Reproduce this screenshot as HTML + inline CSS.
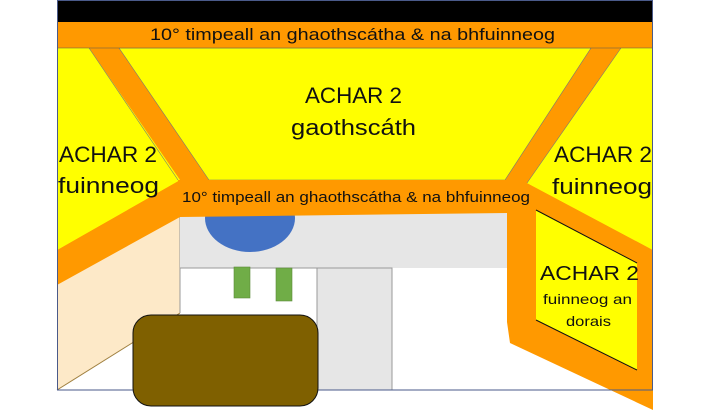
<!DOCTYPE html>
<html><head><meta charset="utf-8"><style>
html,body{margin:0;padding:0;background:#fff;}
svg{display:block;}
text{font-family:"Liberation Sans",sans-serif;fill:#111;}
</style></head><body>
<svg width="709" height="411" viewBox="0 0 709 411" xmlns="http://www.w3.org/2000/svg">
<rect x="0" y="0" width="709" height="411" fill="#fff"/>
<polygon points="57,280 180,213 180,313 57,390" fill="#fde9c8"/>
<line x1="180" y1="313" x2="57" y2="390" stroke="#a08040" stroke-width="1"/>
<line x1="180" y1="213" x2="180" y2="313" stroke="#999" stroke-width="1"/>
<polygon points="57,48 653,48 653,250 525,183 180,183 57,250" fill="#ffff00"/>
<polygon points="89,48 119,48 209,180 505,180 591,48 621,48 527,183 653,250 653,410 510,343 507,322 507,213 180,217 57,285 57,250 180,180 " fill="#ff9900"/>
<polygon points="119,48 591,48 505,180 209,180" fill="#ffff00" stroke="#777" stroke-width="0.6"/>
<polygon points="57,48 89,48 180,180 57,250" fill="#ffff00"/>
<line x1="89" y1="48" x2="178" y2="180" stroke="#777" stroke-width="0.6"/>
<polygon points="621,48 653,48 653,250 527,183" fill="#ffff00"/>
<line x1="621" y1="48" x2="527" y2="183" stroke="#777" stroke-width="0.6"/>
<rect x="180" y="213" width="327" height="55" fill="#e6e6e6"/>
<line x1="180" y1="268" x2="317" y2="268" stroke="#999" stroke-width="1"/>
<ellipse cx="250" cy="218" rx="45" ry="34" fill="#4472c4"/>
<polygon points="178,180 507,180 527,183 507,213 180,217" fill="#ff9900"/>
<rect x="317" y="268" width="75" height="122" fill="#e6e6e6" stroke="#999" stroke-width="1"/>
<rect x="234" y="267" width="16" height="31" fill="#70ad47" stroke="#5a8a3a" stroke-width="0.6"/>
<rect x="276" y="268" width="16" height="33" fill="#70ad47" stroke="#5a8a3a" stroke-width="0.6"/>
<polygon points="536,210 637,263 637,370 536,320" fill="#ffff00"/>
<line x1="536" y1="210" x2="637" y2="263" stroke="#111" stroke-width="1"/>
<line x1="536" y1="320" x2="637" y2="370" stroke="#111" stroke-width="1"/>
<rect x="57" y="0" width="596" height="22" fill="#000"/>
<rect x="57" y="22" width="596" height="26" fill="#ff9900"/>
<line x1="57" y1="48" x2="653" y2="48" stroke="#555" stroke-width="0.6"/>
<rect x="57.5" y="0.5" width="595" height="389.5" fill="none" stroke="#4a5a8a" stroke-width="1"/>
<rect x="133" y="315" width="185" height="91" rx="18" fill="#7f6000" stroke="#111" stroke-width="1"/>
<text x="150" y="40" font-size="17" textLength="405" lengthAdjust="spacingAndGlyphs">10° timpeall an ghaothscátha &amp; na bhfuinneog</text>
<text x="182" y="202" font-size="15" textLength="348" lengthAdjust="spacingAndGlyphs">10° timpeall an ghaothscátha &amp; na bhfuinneog</text>
<text x="305" y="103" font-size="22" textLength="97" lengthAdjust="spacingAndGlyphs">ACHAR 2</text>
<text x="291" y="135" font-size="22" textLength="125" lengthAdjust="spacingAndGlyphs">gaothscáth</text>
<text x="59" y="162" font-size="22" textLength="98" lengthAdjust="spacingAndGlyphs">ACHAR 2</text>
<text x="58" y="193" font-size="22" textLength="101" lengthAdjust="spacingAndGlyphs">fuinneog</text>
<text x="554" y="162" font-size="22" textLength="98" lengthAdjust="spacingAndGlyphs">ACHAR 2</text>
<text x="552" y="194" font-size="22" textLength="100" lengthAdjust="spacingAndGlyphs">fuinneog</text>
<text x="540" y="280" font-size="20" textLength="99" lengthAdjust="spacingAndGlyphs">ACHAR 2</text>
<text x="543" y="304" font-size="14" textLength="89" lengthAdjust="spacingAndGlyphs">fuinneog an</text>
<text x="566" y="326" font-size="14" textLength="45" lengthAdjust="spacingAndGlyphs">dorais</text>
</svg>
</body></html>
